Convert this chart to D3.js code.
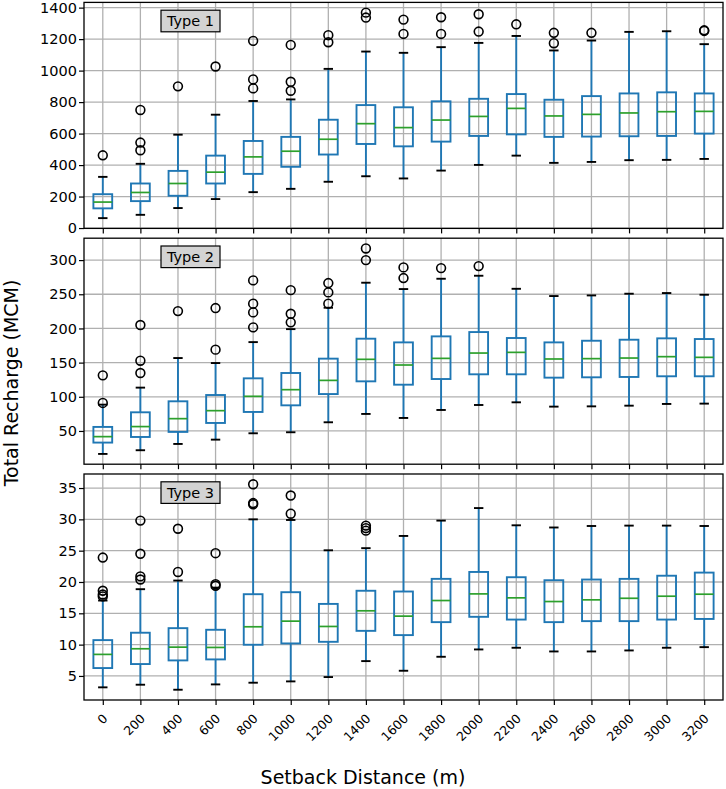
<!DOCTYPE html>
<html>
<head>
<meta charset="utf-8">
<script src="https://cdn.jsdelivr.net/npm/d3@7/dist/d3.min.js"></script>
<style>
  body { margin: 0; background: #fff; }
  text { font-family: "DejaVu Sans", sans-serif; fill: #000; }
</style>
</head>
<body>
<div id="chart"></div>
<script>
// setback distances (x categories)
var distances = [0, 200, 400, 600, 800, 1000, 1200, 1400, 1600, 1800, 2000, 2200, 2400, 2600, 2800, 3000, 3200];

// Type 1 box stats
var type1Low  = [63, 84, 127, 184, 228, 249, 294, 329, 315, 365, 401, 460, 414, 420, 431, 433, 439];
var type1Q1   = [125, 171, 205, 283, 344, 389, 467, 534, 519, 549, 585, 595, 579, 581, 583, 585, 600];
var type1Med  = [165, 226, 283, 355, 452, 488, 564, 663, 638, 686, 709, 760, 712, 722, 731, 739, 741];
var type1Q3   = [215, 283, 363, 460, 553, 579, 688, 781, 767, 805, 821, 851, 815, 838, 855, 862, 855];
var type1High = [325, 408, 593, 720, 807, 817, 1011, 1121, 1113, 1149, 1176, 1220, 1128, 1191, 1246, 1250, 1168];
var type1Fliers = [[462], [750, 543, 494], [900], [1026], [1189, 944, 887], [1163, 929, 872], [1225, 1180],
  [1368, 1337], [1324, 1233], [1339, 1233], [1358, 1248], [1294], [1240, 1174], [1240], [], [], [1252, 1256]];
var type1Ticks = [0, 200, 400, 600, 800, 1000, 1200, 1400];

// Type 2
var type2Low  = [16.4, 21.8, 31, 37.3, 46.6, 48.1, 62.7, 74.9, 69, 80.7, 88, 91.9, 85.6, 86, 87, 89.5, 90];
var type2Q1   = [33, 41.2, 48.6, 61.7, 77.8, 87.5, 104, 122.6, 117.7, 126, 132.9, 132.9, 128, 128.5, 129, 130, 130];
var type2Med  = [41.7, 56.4, 68, 79.7, 100.7, 110.4, 124, 154.8, 146.5, 156.2, 164, 165, 155.3, 155.8, 156.7, 158.7, 157.7];
var type2Q3   = [55.9, 77.3, 93.4, 102.6, 127, 134.8, 155.8, 185, 179.6, 188.4, 194.7, 186, 179.6, 182, 183.5, 185.5, 184.5];
var type2High = [88.5, 113.4, 156.7, 149.4, 180, 199, 230.3, 266.9, 257.6, 272.7, 277.1, 258, 247.4, 248.3, 250.8, 251.8, 249.3];
var type2Fliers = [[131.4, 91], [205, 152.8, 134.8], [225.4], [229.8, 169], [270.3, 236.2, 223.5, 201.6],
  [256, 221.5, 208.9], [266.4, 252.7, 236.2], [317, 300], [289.3, 273.7], [288.3], [291.2], [], [], [], [], [], []];
var type2Ticks = [50, 100, 150, 200, 250, 300];

// Type 3
var type3Low  = [3.18, 3.6, 2.8, 3.65, 3.92, 4.13, 4.82, 7.37, 5.83, 8.06, 9.23, 9.5, 8.91, 8.91, 9.07, 9.5, 9.6];
var type3Q1   = [6.26, 6.9, 7.48, 7.64, 9.98, 10.19, 10.45, 12.2, 11.52, 13.59, 14.44, 14.0, 13.59, 13.75, 13.75, 14.0, 14.1];
var type3Med  = [8.44, 9.34, 9.6, 9.55, 12.85, 13.75, 12.9, 15.4, 14.55, 17.04, 18.1, 17.47, 16.88, 17.15, 17.4, 17.73, 18.05];
var type3Q3   = [10.72, 11.9, 12.63, 12.37, 18.05, 18.37, 16.5, 18.6, 18.48, 20.5, 21.6, 20.76, 20.28, 20.39, 20.5, 21.0, 21.5];
var type3High = [17.04, 18.85, 20.23, 19.1, 30, 29.9, 25.06, 25.4, 27.35, 29.8, 31.8, 29.05, 28.7, 28.94, 29, 29, 28.94];
var type3Fliers = [[23.9, 18.6, 18.0, 17.7], [29.8, 24.5, 20.9, 20.4], [28.5, 21.6], [24.6, 19.65, 19.4],
  [35.6, 32.6, 32.4], [33.8, 30.9], [], [29, 28.6, 28.2], [], [], [], [], [], [], [], [], []];
var type3Ticks = [5, 10, 15, 20, 25, 30, 35];

var panelNames = ["Type 1", "Type 2", "Type 3"];

// build one table per panel from the arrays above
function makeRows(low, q1, med, q3, high, fliers) {
  return distances.map(function(d, i) {
    return {dist: d, low: low[i], q1: q1[i], med: med[i], q3: q3[i], high: high[i], fliers: fliers[i]};
  });
}
var panels = [
  {name: panelNames[0], rows: makeRows(type1Low, type1Q1, type1Med, type1Q3, type1High, type1Fliers), ticks: type1Ticks},
  {name: panelNames[1], rows: makeRows(type2Low, type2Q1, type2Med, type2Q3, type2High, type2Fliers), ticks: type2Ticks},
  {name: panelNames[2], rows: makeRows(type3Low, type3Q1, type3Med, type3Q3, type3High, type3Fliers), ticks: type3Ticks}
];

// set the dimensions of the figure
var W = 726, H = 789;
var left = 84, width = 639, top0 = 2.4, panelStep = 235.8, panelH = 226;

var svg = d3.select("#chart")
  .append("svg")
  .attr("width", W)
  .attr("height", H);

// shared x scale, one slot per distance
var x = d3.scalePoint()
  .domain(distances)
  .range([0, width])
  .padding(0.5);
var boxW = x.step() * 0.5, capW = boxW * 0.5;

var blue = "#1f77b4", green = "#2ca02c", gridCol = "#b0b0b0";
var lw = 1.9;

panels.forEach(function(p, k) {
  var g = svg.append("g")
    .attr("transform", `translate(${left},${top0 + k * panelStep})`);

  // y range like matplotlib autoscale: data extent plus 5%
  var all = [];
  p.rows.forEach(function(r) { all.push(r.low, r.high); all = all.concat(r.fliers); });
  var lo = d3.min(all), hi = d3.max(all), pad = (hi - lo) * 0.05;
  var y = d3.scaleLinear().domain([lo - pad, hi + pad]).range([panelH, 0]);

  // grid
  g.append("g").selectAll("line")
    .data(p.ticks).join("line")
    .attr("x1", 0).attr("x2", width)
    .attr("y1", d => y(d)).attr("y2", d => y(d))
    .attr("stroke", gridCol).attr("stroke-width", 1.3);
  g.append("g").selectAll("line")
    .data(distances).join("line")
    .attr("x1", d => x(d)).attr("x2", d => x(d))
    .attr("y1", 0).attr("y2", panelH)
    .attr("stroke", gridCol).attr("stroke-width", 1.3);

  // y axis
  var ya = g.append("g")
    .call(d3.axisLeft(y).tickValues(p.ticks).tickSize(5).tickPadding(2).tickFormat(d3.format("d")));
  ya.select(".domain").remove();
  ya.selectAll("line").attr("stroke", "#000").attr("stroke-width", 1.2);
  ya.selectAll("text").style("font-size", "14.5px").style("font-family", "DejaVu Sans").attr("fill", "#000");

  // x axis ticks (labels only on bottom panel)
  var xa = g.append("g")
    .attr("transform", `translate(0,${panelH})`)
    .call(d3.axisBottom(x).tickSize(5).tickFormat(""));
  xa.select(".domain").remove();
  xa.selectAll("line").attr("stroke", "#000").attr("stroke-width", 1.2);

  if (k === panels.length - 1) {
    g.append("g").selectAll("text")
      .data(distances).join("text")
      .attr("transform", d => `translate(${x(d) + 5.5},${panelH + 19.5}) rotate(-45)`)
      .attr("text-anchor", "end")
      .style("font-size", "12.5px")
      .text(d => d);
  }

  // boxes
  var b = g.append("g").selectAll("g")
    .data(p.rows).join("g")
    .attr("transform", d => `translate(${x(d.dist)},0)`);

  b.append("line").attr("y1", d => y(d.low)).attr("y2", d => y(d.q1))
    .attr("stroke", blue).attr("stroke-width", lw);
  b.append("line").attr("y1", d => y(d.q3)).attr("y2", d => y(d.high))
    .attr("stroke", blue).attr("stroke-width", lw);
  b.append("line").attr("x1", -capW / 2).attr("x2", capW / 2)
    .attr("y1", d => y(d.low)).attr("y2", d => y(d.low))
    .attr("stroke", "#000").attr("stroke-width", lw);
  b.append("line").attr("x1", -capW / 2).attr("x2", capW / 2)
    .attr("y1", d => y(d.high)).attr("y2", d => y(d.high))
    .attr("stroke", "#000").attr("stroke-width", lw);
  b.append("rect")
    .attr("x", -boxW / 2).attr("width", boxW)
    .attr("y", d => y(d.q3)).attr("height", d => y(d.q1) - y(d.q3))
    .attr("fill", "none").attr("stroke", blue).attr("stroke-width", lw);
  b.append("line").attr("x1", -boxW / 2).attr("x2", boxW / 2)
    .attr("y1", d => y(d.med)).attr("y2", d => y(d.med))
    .attr("stroke", green).attr("stroke-width", 1.7);
  b.selectAll("circle")
    .data(d => d.fliers).join("circle")
    .attr("cy", d => y(d)).attr("r", 4.4)
    .attr("fill", "none").attr("stroke", "#000").attr("stroke-width", 1.6);

  // frame
  g.append("rect")
    .attr("width", width).attr("height", panelH)
    .attr("fill", "none").attr("stroke", "#000").attr("stroke-width", 1.3);

  // type label with grey box
  g.append("rect")
    .attr("x", 77).attr("y", 7.8).attr("width", 59).attr("height", 21.6)
    .attr("fill", "#d3d3d3").attr("stroke", "#000").attr("stroke-width", 1.2);
  g.append("text")
    .attr("x", 106.5).attr("y", 23.8)
    .attr("text-anchor", "middle")
    .style("font-size", "14.5px")
    .text(p.name);
});

// axis titles
svg.append("text")
  .attr("x", 363).attr("y", 784)
  .attr("text-anchor", "middle")
  .style("font-size", "19px")
  .text("Setback Distance (m)");
svg.append("text")
  .attr("transform", "translate(17.5,383) rotate(-90)")
  .attr("text-anchor", "middle")
  .style("font-size", "19px")
  .text("Total Recharge (MCM)");
</script>
</body>
</html>
